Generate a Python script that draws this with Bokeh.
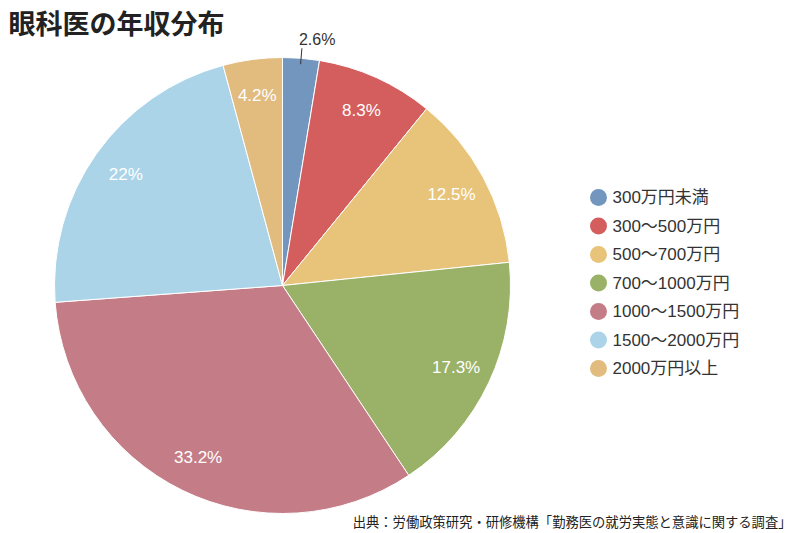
import numpy as np
from bokeh.plotting import figure
from bokeh.models import Range1d, ColumnDataSource
from bokeh.core.properties import value
from bokeh.embed import file_html
from bokeh.resources import INLINE

title_text = "眼科医の年収分布"
categories = ["300万円未満", "300〜500万円", "500〜700万円", "700〜1000万円",
              "1000〜1500万円", "1500〜2000万円", "2000万円以上"]
shares = [2.6, 8.3, 12.5, 17.3, 33.2, 22, 4.2]
share_labels = ["2.6%", "8.3%", "12.5%", "17.3%", "33.2%", "22%", "4.2%"]
colors = ["#7396BE", "#D45D5D", "#E8C47A", "#9AB267", "#C47D87", "#ABD4E8", "#E2BB7E"]
source_note = "出典：労働政策研究・研修機構「勤務医の就労実態と意識に関する調査」"

W, H = 800, 533
FONT = "Liberation Sans, Noto Sans CJK JP"
CJK = "Noto Sans CJK JP"

p = figure(width=W, height=H, x_range=Range1d(0, W), y_range=Range1d(0, H),
           x_axis_type=None, y_axis_type=None, output_backend="svg",
           toolbar_location=None, min_border=0)
p.grid.visible = False
p.outline_line_color = None
p.background_fill_color = "white"

cx, cy, R = 282, 248, 228
frac = np.array(shares) / np.sum(shares)
cum = np.concatenate([[0], np.cumsum(frac)])
start = np.pi / 2 - 2 * np.pi * cum[:-1]
end = np.pi / 2 - 2 * np.pi * cum[1:]
mid = (start + end) / 2

src = ColumnDataSource(dict(start=start, end=end, color=colors, cat=categories))
p.wedge(x=cx, y=cy, radius=R, start_angle="start", end_angle="end",
        direction="clock", fill_color="color", line_color="white", line_width=1,
        source=src)

# inside labels
r_lab = 192
inner_idx = list(range(1, len(shares)))
p.text(x=[cx + r_lab * np.cos(mid[i]) for i in inner_idx],
       y=[cy + r_lab * np.sin(mid[i]) for i in inner_idx],
       text=[share_labels[i] for i in inner_idx],
       text_color="white", text_font=value(FONT), text_font_size="17px",
       text_align="center", text_baseline="middle")

# outside label for first slice
a0 = mid[0]
r1, r2 = 222, 238
p.segment(x0=cx + r1 * np.cos(a0), y0=cy + r1 * np.sin(a0),
          x1=cx + r2 * np.cos(a0), y1=cy + r2 * np.sin(a0),
          line_color="#333333", line_width=1)
p.text(x=[cx + r2 * np.cos(a0) - 3], y=[cy + r2 * np.sin(a0) + 9],
       text=[share_labels[0]], text_color="#333333", text_font=value(FONT),
       text_font_size="16px", text_align="left", text_baseline="middle")

# legend
ly0, ldy = 336, 28.5
ly = [ly0 - i * ldy for i in range(len(categories))]
p.scatter(x=[598] * len(categories), y=ly, size=17, marker="circle",
          fill_color=colors, line_color=None)
p.text(x=[612] * len(categories), y=ly, text=categories, text_color="#333333",
       text_font=value(FONT), text_font_size="17px", text_align="left",
       text_baseline="middle")

# title
p.text(x=[8], y=[511], text=[title_text], text_color="#222222",
       text_font=value(CJK), text_font_size="27px", text_font_style="bold",
       text_align="left", text_baseline="middle")

# source
p.text(x=[791], y=[12], text=[source_note], text_color="#222222",
       text_font=value(CJK), text_font_size="13.3px", text_align="right",
       text_baseline="middle")

open("out.html", "w").write(file_html(p, INLINE))
